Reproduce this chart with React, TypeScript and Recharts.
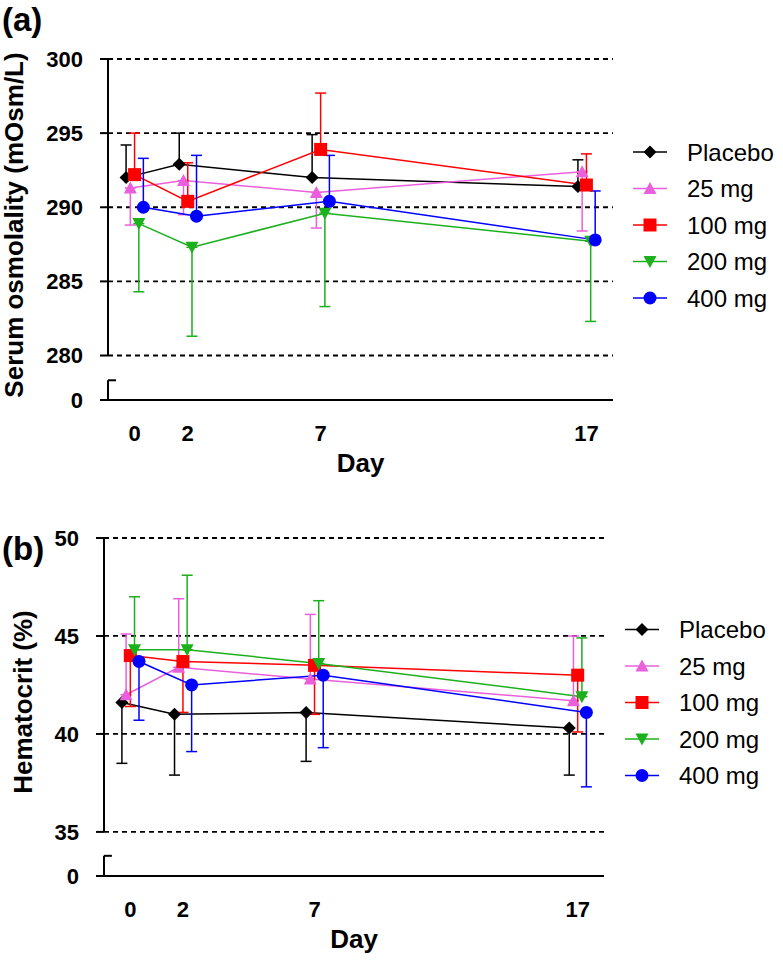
import React from "react";
import { LineChart, Line, XAxis, YAxis, CartesianGrid, ErrorBar, ReferenceLine } from "recharts";

const days = [0, 2, 7, 17];
const groups = ["Placebo", "25 mg", "100 mg", "200 mg", "400 mg"];

// (a) serum osmolality, mean and SD
const osmPlacebo = [292.0, 292.9, 292.0, 291.4];
const osm25 = [291.3, 291.8, 291.0, 292.4];
const osm100 = [292.2, 290.4, 293.9, 291.5];
const osm200 = [288.9, 287.3, 289.6, 287.7];
const osm400 = [290.0, 289.4, 290.4, 287.8];
const osmSdPlacebo = [2.2, 2.1, 2.9, 1.8];
const osmSd25 = [2.5, 2.3, 2.4, 4.0];
const osmSd100 = [2.8, 2.6, 3.8, 2.1];
const osmSd200 = [4.6, 6.0, 6.3, 5.4];
const osmSd400 = [3.3, 4.1, 3.1, 3.3];
const osmSide = ["up", "down", "up", "down", "up"];
const osmTicks = [280, 285, 290, 295, 300];

// (b) hematocrit, mean and SD
const hctPlacebo = [41.6, 41.0, 41.1, 40.3];
const hct25 = [42.0, 43.4, 42.8, 41.7];
const hct100 = [44.0, 43.7, 43.5, 43.0];
const hct200 = [44.3, 44.3, 43.6, 41.9];
const hct400 = [43.7, 42.5, 43.0, 41.1];
const hctSdPlacebo = [3.1, 3.1, 2.5, 2.4];
const hctSd25 = [3.1, 3.5, 3.3, 3.3];
const hctSd100 = [2.6, 2.6, 2.5, 2.9];
const hctSd200 = [2.7, 3.8, 3.2, 3.0];
const hctSd400 = [3.0, 3.4, 3.7, 3.8];
const hctSide = ["down", "up", "down", "up", "down"];
const hctTicks = [35, 40, 45, 50];

const colors = ["#000000", "#ea5fdc", "#ff0000", "#1cb01c", "#0000ff"];
const shapes = ["diamond", "triangle", "square", "triangleDown", "circle"];
// small horizontal shift so the groups don't sit on top of each other
const dodge = [-0.32, -0.16, 0, 0.16, 0.33];

const FONT = "'Liberation Sans', Arial, sans-serif";

function Marker({ shape, cx, cy, color }: any) {
  const s = 6.5;
  if (shape === "diamond")
    return <polygon points={`${cx},${cy - s} ${cx + s},${cy} ${cx},${cy + s} ${cx - s},${cy}`} fill={color} />;
  if (shape === "triangle")
    return <polygon points={`${cx},${cy - s} ${cx + s},${cy + s - 1} ${cx - s},${cy + s - 1}`} fill={color} />;
  if (shape === "triangleDown")
    return <polygon points={`${cx},${cy + s} ${cx + s},${cy - s + 1} ${cx - s},${cy - s + 1}`} fill={color} />;
  if (shape === "square") return <rect x={cx - s} y={cy - s} width={2 * s} height={2 * s} fill={color} />;
  return <circle cx={cx} cy={cy} r={s} fill={color} />;
}

const buildSeries = (means: number[], sds: number[], side: string, shift: number) =>
  days.map((d, j) => ({
    x: d + shift,
    y: means[j],
    err: side === "up" ? [0, sds[j]] : [sds[j], 0],
  }));

const Panel = ({ means, sds, sides, ticks, breakValue, breakCap, axisWidth, margin }: any) => {
  const top = ticks[ticks.length - 1];
  const bottomGrid = ticks[0];
  return (
    <LineChart width={783} height={480} margin={margin}>
      <CartesianGrid
        vertical={false}
        horizontalValues={ticks}
        stroke="#000"
        strokeWidth={1.8}
        strokeDasharray="5 4"
      />
      <XAxis
        type="number"
        dataKey="x"
        domain={[-1, 18]}
        ticks={days}
        interval={0}
        allowDataOverflow
        height={72}
        tickLine={false}
        tickSize={0}
        tickMargin={25}
        axisLine={{ stroke: "#000", strokeWidth: 2 }}
        tick={{ fontSize: 22, fontWeight: 700, fill: "#000", fontFamily: FONT }}
        label={{ value: "Day", position: "insideBottom", offset: 0, fontSize: 26, fontWeight: 700, fill: "#000", fontFamily: FONT }}
      />
      <YAxis
        type="number"
        domain={[breakValue, top]}
        ticks={[breakValue, ...ticks]}
        interval={0}
        allowDataOverflow
        width={axisWidth}
        axisLine={false}
        tickSize={8}
        tickMargin={17}
        tickLine={{ stroke: "#000", strokeWidth: 2 }}
        tickFormatter={(v: number) => (v === breakValue ? "0" : String(v))}
        tick={{ fontSize: 22, fontWeight: 700, fill: "#000", fontFamily: FONT }}
      />
      {/* broken y axis: main part, short stub at zero and its cap */}
      <ReferenceLine segment={[{ x: -1, y: bottomGrid }, { x: -1, y: top }]} stroke="#000" strokeWidth={2} ifOverflow="visible" />
      <ReferenceLine segment={[{ x: -1, y: breakValue }, { x: -1, y: breakCap }]} stroke="#000" strokeWidth={2} ifOverflow="visible" />
      <ReferenceLine segment={[{ x: -1, y: breakCap }, { x: -0.7, y: breakCap }]} stroke="#000" strokeWidth={2} ifOverflow="visible" />
      {groups.map((g, i) => (
        <Line
          key={g}
          name={g}
          data={buildSeries(means[i], sds[i], sides[i], dodge[i])}
          dataKey="y"
          type="linear"
          stroke={colors[i]}
          strokeWidth={1.5}
          isAnimationActive={false}
          activeDot={false}
          dot={(p: any) => <Marker key={`${g}-${p.index}`} shape={shapes[i]} cx={p.cx} cy={p.cy} color={colors[i]} />}
        >
          <ErrorBar dataKey="err" direction="y" width={5.5} stroke={colors[i]} strokeWidth={1.5} isAnimationActive={false} />
        </Line>
      ))}
    </LineChart>
  );
};

const LegendBlock = ({ x, y }: { x: number; y: number }) => (
  <g>
    {groups.map((g, i) => {
      const cy = y + i * 36.5;
      return (
        <g key={g}>
          <line x1={x} x2={x + 34} y1={cy} y2={cy} stroke={colors[i]} strokeWidth={1.5} />
          <Marker shape={shapes[i]} cx={x + 17} cy={cy} color={colors[i]} />
          <text x={x + 54} y={cy + 8.5} fontSize={24} fill="#000" fontFamily={FONT}>
            {g}
          </text>
        </g>
      );
    })}
  </g>
);

export default function App() {
  return (
    <div style={{ position: "absolute", left: 0, top: 0, width: 783, height: 960, background: "#fff", fontFamily: FONT }}>
      <div style={{ position: "absolute", left: 0, top: 0 }}>
        <Panel
          means={[osmPlacebo, osm25, osm100, osm200, osm400]}
          sds={[osmSdPlacebo, osmSd25, osmSd100, osmSd200, osmSd400]}
          sides={osmSide}
          ticks={osmTicks}
          breakValue={277}
          breakCap={278.33}
          axisWidth={108}
          margin={{ top: 59, right: 170, bottom: 8, left: 0 }}
        />
      </div>
      <div style={{ position: "absolute", left: 0, top: 480 }}>
        <Panel
          means={[hctPlacebo, hct25, hct100, hct200, hct400]}
          sds={[hctSdPlacebo, hctSd25, hctSd100, hctSd200, hctSd400]}
          sides={hctSide}
          ticks={hctTicks}
          breakValue={32.75}
          breakCap={33.78}
          axisWidth={104}
          margin={{ top: 58, right: 179, bottom: 12, left: 0 }}
        />
      </div>
      <svg width={783} height={960} style={{ position: "absolute", left: 0, top: 0, pointerEvents: "none" }}>
        <text x={2} y={31} fontSize={33} fontWeight={700} fontFamily={FONT}>(a)</text>
        <text x={2} y={560} fontSize={33} fontWeight={700} fontFamily={FONT}>(b)</text>
        <text x={22.5} y={225} transform="rotate(-90 22.5 225)" textAnchor="middle" fontSize={26} fontWeight={700} fontFamily={FONT}>
          Serum osmolality (mOsm/L)
        </text>
        <text x={32} y={702} transform="rotate(-90 32 702)" textAnchor="middle" fontSize={26} fontWeight={700} fontFamily={FONT}>
          Hematocrit (%)
        </text>
        <LegendBlock x={633} y={152} />
        <LegendBlock x={625} y={629.5} />
      </svg>
    </div>
  );
}
